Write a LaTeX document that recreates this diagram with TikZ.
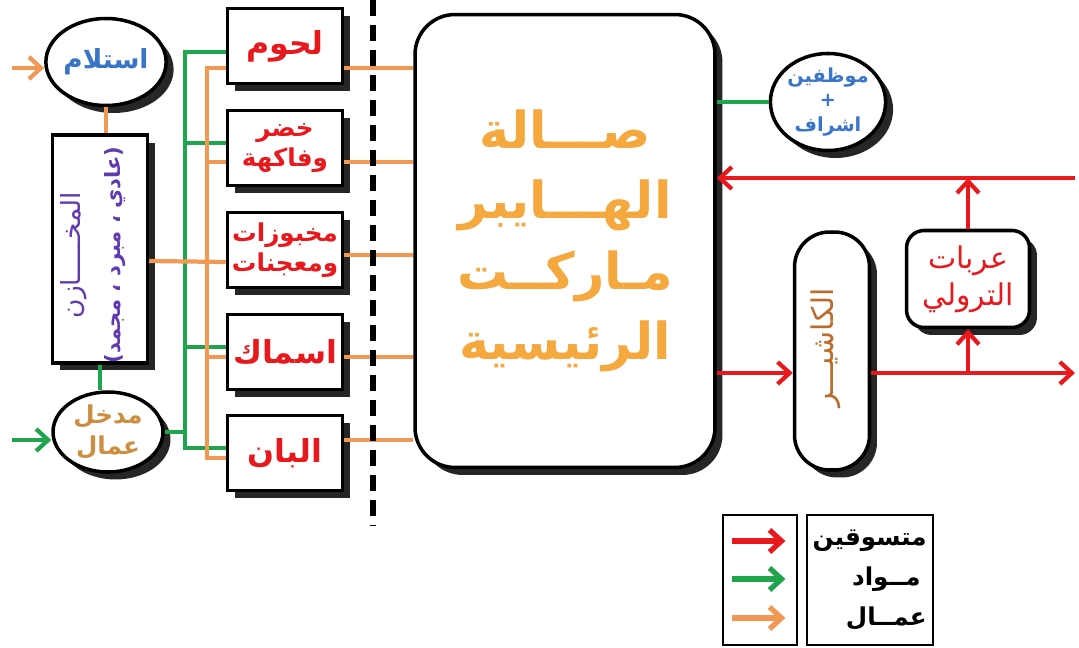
\documentclass[tikz,border=0pt]{standalone}
\usepackage{fontspec}
\newfontfamily\arabicfont[Script=Arabic]{DejaVu Sans}
\TeXXeTstate=1
\usetikzlibrary{shapes.geometric,shadows,arrows.meta}
\definecolor{custred}{RGB}{232,24,28}
\definecolor{goodsgreen}{RGB}{32,164,78}
\definecolor{crewor}{RGB}{240,152,84}
\definecolor{recvblue}{RGB}{58,118,200}
\definecolor{storeviolet}{RGB}{96,58,176}
\definecolor{crewtan}{RGB}{205,142,66}
\definecolor{hallgold}{RGB}{244,168,62}
\definecolor{cashbrown}{RGB}{188,108,44}
\newcommand{\rl}[1]{\beginR#1\endR}
\begin{document}
\begin{tikzpicture}
  [x=0.02cm,y=-0.02cm,
   box/.style={draw,line width=2pt,fill=white,
     drop shadow={shadow xshift=1.5mm,shadow yshift=-1.5mm,fill=black,opacity=.85}},
   oval/.style={box,ellipse,inner sep=0pt,align=center},
   dept/.style={box,minimum width=2.3cm,minimum height=1.5cm,inner sep=0pt,align=center,
     text=custred,font=\arabicfont\bfseries\fontsize{18}{21}\selectfont},
   dept2/.style={dept,font=\arabicfont\bfseries\fontsize{14}{17}\selectfont},
   key/.style={draw,line width=1.6pt,minimum height=2.6cm},
   keylabel/.style={anchor=east,inner sep=0pt,font=\arabicfont\bfseries\fontsize{14}{16}\selectfont},
   crew line/.style={crewor,line width=2.4pt},
   goods line/.style={goodsgreen,line width=2.4pt},
   cust line/.style={custred,line width=2.4pt},
   arr/.style={-{Straight Barb[length=2.4mm,width=4.4mm]}},
   divider/.style={line width=3.6pt,dash pattern=on 3.2mm off 1.8mm}]
  \useasboundingbox (0,0) rectangle (1079,648);

  % receiving, store, staff entrance
  \node[oval,name=recv,minimum width=2.16cm,minimum height=1.74cm,text=recvblue,
    font=\arabicfont\bfseries\fontsize{15}{17}\selectfont] at (106,62) {\rl{استلام}};
  \node[box,name=store,minimum width=1.9cm,minimum height=4.56cm] at (100,249) {};
  \node[name=storename,rotate=90,text=storeviolet,
    font=\arabicfont\fontsize{15}{17}\selectfont] at (74,255) {\rl{المخـــــازن}};
  \node[name=storekinds,rotate=90,text=storeviolet,
    font=\arabicfont\bfseries\fontsize{12}{14}\selectfont] at (115,255) {\rl{(عادي ، مبرد ، مجمد)}};
  \node[oval,name=staffin,minimum width=2.2cm,minimum height=1.6cm,text=crewtan,
    font=\arabicfont\bfseries\fontsize{14}{18}\selectfont] at (108,432) {\rl{مدخل}\\\rl{عمال}};

  % departments
  \node[dept,name=meat] at (285,46) {\rl{لحوم}};
  \node[dept2,name=veg] at (285,148) {\rl{خضر}\\\rl{وفاكهة}};
  \node[dept2,name=bakery] at (285,250) {\rl{مخبوزات}\\\rl{ومعجنات}};
  \node[dept,name=fish] at (285,352) {\rl{اسماك}};
  \node[dept,name=dairy] at (285,453) {\rl{البان}};

  % main hall
  \node[box,name=hall,rounded corners=8mm,minimum width=6cm,minimum height=9.06cm,align=center,
    text=hallgold,font=\arabicfont\bfseries\fontsize{29}{40}\selectfont] at (565,241)
    {\rl{صـــالة}\\\rl{الهـــايبر}\\\rl{مـاركــت}\\\rl{الرئيسية}};

  % staff, cashier, trolleys
  \node[oval,name=staff,minimum width=2.2cm,minimum height=1.9cm,text=recvblue,
    font=\arabicfont\bfseries\fontsize{11}{14}\selectfont] at (828,102) {\rl{موظفين}\\+\\\rl{اشراف}};
  \node[box,name=cashier,rounded corners=7mm,minimum width=1.5cm,minimum height=4.76cm] at (832,351) {};
  \node[name=cashiername,rotate=90,text=cashbrown,
    font=\arabicfont\fontsize{17}{19}\selectfont] at (826,348) {\rl{الكاشيـــر}};
  \node[box,name=trolley,rounded corners=3.5mm,minimum width=2.46cm,minimum height=1.94cm,align=center,
    text=custred,font=\arabicfont\fontsize{17}{21}\selectfont] at (968,279) {\rl{عربات}\\\rl{الترولي}};

  % legend
  \node[key,name=keyarrows,minimum width=1.48cm] at (760,580) {};
  \node[key,name=keytext,minimum width=2.52cm] at (870,580) {};
  \node[keylabel,name=keycust] at (927,541) {\rl{متسوقين}};
  \node[keylabel,name=keygoods] at (921,579) {\rl{مــواد}};
  \node[keylabel,name=keycrew] at (927,618) {\rl{عمــال}};

  \coordinate (gbus) at (185,0);
  \coordinate (obus) at (207,0);
  \coordinate (recvin) at (12,68);
  \coordinate (staffinin) at (12,440);
  \coordinate (custin) at (1075,178);
  \coordinate (custout) at (1075,373);
  \coordinate (divtop) at (373,0);
  \coordinate (divbot) at (373,525);

  % workers and goods coming in
  \draw[crew line,arr] (recvin) -- (recvin -| recv.west);
  \draw[goods line,arr] (staffinin) -- (staffinin -| staffin.west);
  \draw[crew line] (recv.south) -- (recv.south |- store.north);
  \draw[goods line] (store.south) -- (store.south |- staffin.north);

  % goods bus
  \draw[goods line] ([yshift=-1.2mm]meat.west) -- ([yshift=-1.2mm]meat.west -| gbus)
    -- ([yshift=1mm]dairy.west -| gbus) -- ([yshift=1mm]dairy.west);
  \draw[goods line] ([yshift=1mm]veg.west) -- ([yshift=1mm]veg.west -| gbus);
  \draw[goods line] ([yshift=1mm]fish.west) -- ([yshift=1mm]fish.west -| gbus);
  \draw[goods line] (staffin.east) -- (staffin.east -| gbus);

  % workers bus
  \draw[crew line] ([yshift=-4.4mm]meat.west) -- ([yshift=-4.4mm]meat.west -| obus)
    -- ([yshift=-1mm]dairy.west -| obus) -- ([yshift=-1mm]dairy.west);
  \draw[crew line] ([yshift=-2.8mm]veg.west) -- ([yshift=-2.8mm]veg.west -| obus);
  \draw[crew line] ([yshift=-1mm]fish.west) -- ([yshift=-1mm]fish.west -| obus);
  \draw[crew line] ([yshift=-2.4mm]store.east) -- ([yshift=-2.4mm]bakery.west);

  % departments to hall
  \draw[crew line] ([yshift=-4.4mm]meat.east) -- ([yshift=-4.4mm]meat.east -| hall.west);
  \draw[crew line] ([yshift=-2.8mm]veg.east) -- ([yshift=-2.8mm]veg.east -| hall.west);
  \draw[crew line] ([yshift=-1mm]bakery.east) -- ([yshift=-1mm]bakery.east -| hall.west);
  \draw[crew line] ([yshift=-1mm]fish.east) -- ([yshift=-1mm]fish.east -| hall.west);
  \draw[crew line] ([yshift=2.6mm]dairy.east) -- ([yshift=2.6mm]dairy.east -| hall.west);

  \draw[divider] (divtop) -- (divbot);

  % customers
  \draw[goods line] (staff.west) -- (staff.west -| hall.east);
  \draw[cust line,arr] (custin) -- (custin -| hall.east);
  \draw[cust line,arr] (trolley.north) -- (trolley.north |- custin);
  \draw[cust line,arr] (hall.east |- custout) -- (cashier.west |- custout);
  \draw[cust line,arr] (cashier.east |- custout) -- (custout);
  \draw[cust line,arr] (trolley.south |- custout) -- (trolley.south);

  % legend arrows
  \draw[cust line,line width=3pt,arr] ([xshift=2mm]keyarrows.west |- keycust) -- ([xshift=-2.6mm]keyarrows.east |- keycust);
  \draw[goods line,line width=3pt,arr] ([xshift=2mm]keyarrows.west |- keygoods) -- ([xshift=-2.6mm]keyarrows.east |- keygoods);
  \draw[crew line,line width=3pt,arr] ([xshift=2mm]keyarrows.west |- keycrew) -- ([xshift=-2.6mm]keyarrows.east |- keycrew);
\end{tikzpicture}
\end{document}
